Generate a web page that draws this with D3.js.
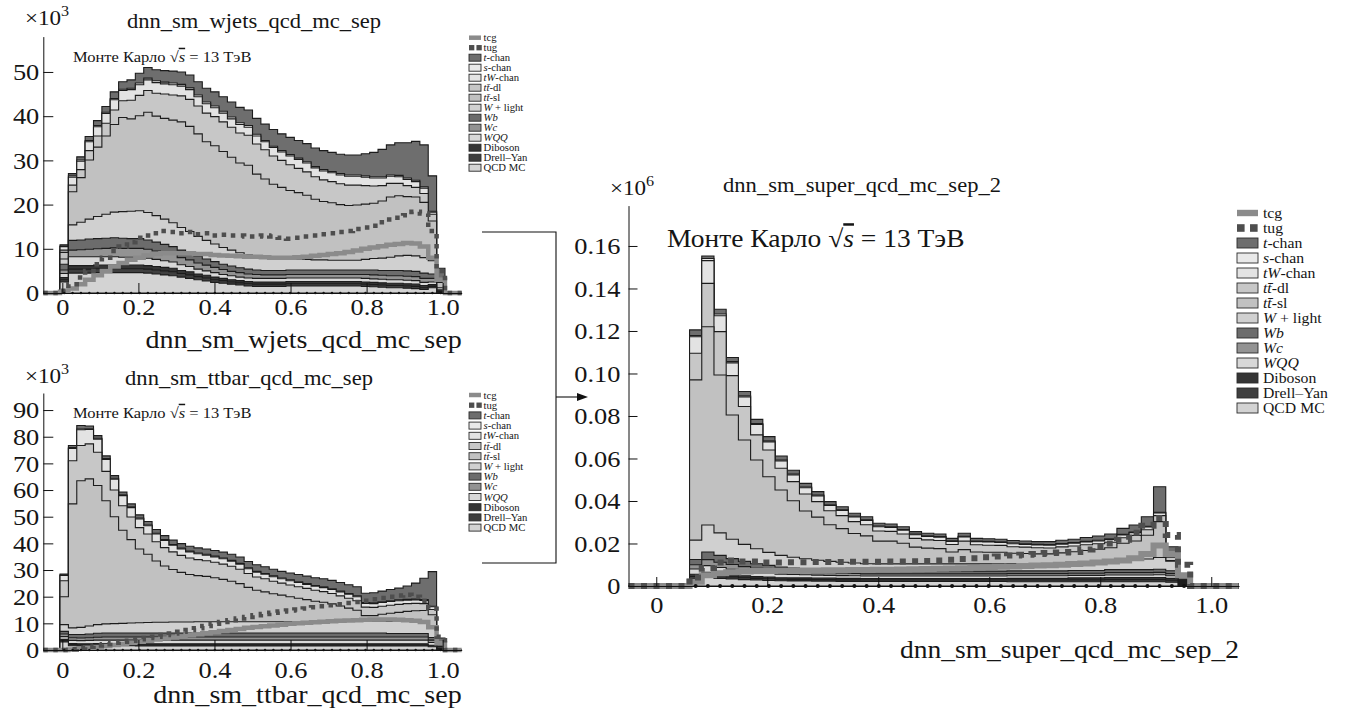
<!DOCTYPE html>
<html>
<head>
<meta charset="utf-8">
<script src="https://cdn.jsdelivr.net/npm/d3@7"></script>
<style>
  body { margin: 0; background: #fff; }
  svg { display: block; }
  svg text { font-family: "Liberation Serif", "Times New Roman", Times, serif; }
</style>
</head>
<body>
<svg id="fig"></svg>
<script>
// ---- binning (50 bins from -0.05 to 1.05) ----
const nBins = 50, xLo = -0.05, xHi = 1.05;
const binEdges = d3.range(nBins + 1).map((i) => xLo + (i * (xHi - xLo)) / nBins);

// ---- dnn_sm_wjets_qcd_mc_sep (x10^3) ----
const wj_tchan = [0,0, 0.3,0.5,0.7,0.9,1.1,1.3,1.5,1.7, 1.9,2.2,2.4,2.5,2.6,2.7,2.8,2.9,3.0,3.1, 3.2,3.3,3.4,3.5,3.5,3.6,3.7,3.8,3.8,3.9, 4.0,4.1,4.2,4.3,4.3,4.4,4.5,4.5,5.0,5.5, 6.2,6.8,7.4,8.0,8.8,9.5,8.0,2.5,0,0];
const wj_schan = [0,0, 0.1,0.3,0.3,0.3,0.3,0.3,0.3,0.3, 0.3,0.4,0.4,0.4,0.4,0.4,0.4,0.4,0.4,0.4, 0.4,0.4,0.4,0.4,0.4,0.4,0.3,0.3,0.3,0.3, 0.3,0.3,0.3,0.3,0.3,0.3,0.3,0.3,0.3,0.3, 0.3,0.3,0.3,0.3,0.3,0.3,0.2,0.1,0,0];
const wj_tw = [0,0, 0.8,1.8,1.9,2.0,2.1,2.2,2.3,2.3, 2.4,2.4,2.4,2.4,2.3,2.3,2.2,2.2,2.1,2.1, 2.0,2.0,1.9,1.9,1.8,1.8,1.8,1.9,1.9,2.0, 2.0,2.0,2.0,2.0,2.0,2.0,2.0,2.0,1.9,1.8, 1.7,1.6,1.5,1.4,1.3,1.2,0.5,0.2,0,0];
const wj_ttdl = [0,0, 0.5,1.5,1.8,2.1,2.5,2.9,3.3,3.8, 4.2,4.6,4.9,5.2,5.5,5.7,5.9,6.1,6.3,6.5, 6.6,6.7,6.8,6.8,6.8,6.8,6.6,6.4,6.1,5.8, 5.5,5.3,5.1,4.9,4.8,4.7,4.6,4.5,4.2,3.9, 3.5,3.1,2.8,2.5,2.2,2.0,1.5,0.4,0,0];
const wj_ttsl = [0,0, 1.5,7.5,10.1,13.4,15.7,17.7,19.8,21.3, 20.9,21.5,22.7,22.5,22.8,23.2,23.9,23.8,23.2,22.3, 22.2,21.7,21.0,20.3,20.3,18.7,17.8,16.7,16.1,15.4, 15.0,14.5,13.7,13.2,13.0,12.6,12.4,12.5,12.5,12.5, 12.9,13.6,13.6,13.3,13.3,12.5,9.0,1.2,0,0];
const wj_wlight = [0,0, 1.2,3.5,4.0,4.5,5.0,5.4,5.8,6.0, 6.2,6.3,6.2,6.0,5.7,5.4,5.1,4.8,4.5,4.2, 4.0,3.8,3.6,3.4,3.2,3.0,2.9,2.8,2.7,2.6, 2.5,2.4,2.3,2.3,2.2,2.2,2.2,2.2,2.4,2.6, 2.8,3.0,3.3,3.5,3.5,3.5,3.0,0.5,0,0];
const wj_wb = [0,0, 1.3,2.2,2.2,2.3,2.3,2.3,2.3,2.3, 2.2,2.2,2.1,2.0,1.9,1.8,1.7,1.6,1.5,1.4, 1.3,1.2,1.2,1.1,1.1,1.0,1.0,1.0,1.0,1.0, 1.0,1.0,1.0,1.0,1.0,1.0,1.0,1.0,1.0,1.1, 1.1,1.2,1.2,1.2,1.2,1.2,1.0,0.2,0,0];
const wj_wc = [0,0, 0.8,1.5,1.6,1.7,1.8,1.9,2.0,2.0, 2.0,2.0,2.0,1.9,1.8,1.7,1.6,1.5,1.4,1.3, 1.2,1.1,1.0,1.0,0.9,0.9,0.8,0.8,0.8,0.8, 0.8,0.8,0.8,0.8,0.8,0.8,0.8,0.8,0.9,0.9, 0.9,0.9,0.9,0.9,0.9,0.9,0.8,0.1,0,0];
const wj_wqq = [0,0, 0.9,2.0,2.0,2.0,1.9,1.9,1.9,1.8, 1.8,1.8,1.7,1.6,1.5,1.4,1.3,1.2,1.1,1.0, 1.0,0.9,0.9,0.8,0.8,0.8,0.8,0.8,0.8,0.8, 0.8,0.8,0.8,0.8,0.8,0.8,0.8,0.8,0.8,0.8, 0.8,0.8,0.8,0.8,0.8,0.7,0.6,0.1,0,0];
const wj_dib = [0,0, 0.5,0.8,0.8,0.8,0.8,0.8,0.8,0.8, 0.8,0.8,0.8,0.8,0.8,0.8,0.7,0.7,0.6,0.6, 0.6,0.5,0.5,0.5,0.5,0.5,0.5,0.5,0.5,0.5, 0.5,0.5,0.5,0.5,0.5,0.5,0.5,0.5,0.5,0.5, 0.5,0.5,0.5,0.5,0.5,0.5,0.4,0.1,0,0];
const wj_dy = [0,0, 0.5,0.9,0.9,0.9,0.9,0.9,0.9,0.9, 0.9,0.9,0.9,0.9,0.9,0.9,0.8,0.8,0.7,0.7, 0.6,0.6,0.5,0.5,0.5,0.5,0.5,0.5,0.5,0.5, 0.5,0.5,0.5,0.5,0.5,0.5,0.5,0.5,0.5,0.5, 0.5,0.5,0.5,0.5,0.5,0.4,0.3,0.1,0,0];
const wj_qcd = [0,0, 2.5,4.5,4.5,4.5,4.6,4.6,4.6,4.6, 4.6,4.6,4.5,4.3,4.1,3.9,3.6,3.3,3.0,2.7, 2.4,2.2,2.0,1.8,1.6,1.5,1.5,1.5,1.5,1.6, 1.6,1.6,1.6,1.6,1.6,1.6,1.6,1.6,1.5,1.4, 1.3,1.2,1.2,1.1,1.0,0.8,1.2,0.1,0,0];
const wj_tcg = [0,0, 0.3,1,2,3,4,5,6,6.8, 7.5,8,8.5,8.8,9,9,9,9,8.8,8.8, 8.6,8.5,8.4,8.3,8.2,8.2,8.1,8,8,8, 8.1,8.2,8.4,8.6,8.8,9,9.3,9.6,10,10.3, 10.6,10.9,11.1,11.3,11.2,10.5,8,3,0,0];
const wj_tug = [0,0, 0.5,2,3.5,5,6.5,8,9.5,10.5, 11.5,12.5,13,13.5,14,13.8,13.5,13.8,13.3,13.5, 13,13.2,13,13,12.8,12.8,13,12.8,12.5,12.3, 12.5,12.8,13,13.3,13.5,13.8,14,14.5,14.8,15.2, 16,16.6,17,17.6,18.4,18,14,5,0,0];

// ---- dnn_sm_ttbar_qcd_mc_sep (x10^3) ----
const tt_tchan = [0,0, 0.4,0.8,1.3,1.0,1.0,1.0,1.0,1.0, 1.1,1.2,1.3,1.4,1.5,1.6,1.7,1.8,1.9,2.0, 2.1,2.2,2.3,2.4,2.4,2.5,2.5,2.5,2.5,2.6, 2.7,2.8,2.9,3.0,3.1,3.2,3.3,3.4,3.5,3.8, 4.0,4.2,4.4,5.0,6.0,8.0,13.0,2.0,0,0];
const tt_schan = [0,0, 0.1,0.3,0.3,0.3,0.3,0.3,0.3,0.3, 0.3,0.3,0.3,0.3,0.3,0.3,0.3,0.3,0.3,0.3, 0.3,0.3,0.3,0.3,0.3,0.3,0.3,0.3,0.3,0.3, 0.3,0.3,0.3,0.3,0.3,0.3,0.3,0.3,0.3,0.3, 0.3,0.3,0.3,0.3,0.3,0.3,0.2,0.1,0,0];
const tt_tw = [0,0, 2.0,4.6,5.9,5.4,4.9,4.5,4.1,3.8, 3.5,3.3,3.1,2.9,2.7,2.5,2.4,2.3,2.2,2.1, 2.0,2.0,1.9,1.9,1.8,1.8,1.7,1.7,1.6,1.6, 1.6,1.5,1.5,1.5,1.5,1.5,1.5,1.5,1.4,1.4, 1.4,1.4,1.4,1.3,1.3,1.2,1.0,0.2,0,0];
const tt_ttdl = [0,0, 6.0,16.2,13.2,13.1,12.5,11.0,10.0,9.2, 8.5,8.0,7.6,7.2,6.9,6.6,6.4,6.2,6.0,5.9, 5.8,5.7,5.6,5.4,5.2,5.0,4.9,4.7,4.5,4.4, 4.3,4.2,4.1,4.0,3.9,3.8,3.7,3.6,3.2,3.1, 3.0,3.0,3.0,2.9,2.8,2.6,2.0,0.4,0,0];
const tt_ttsl = [0,0, 10.5,46.5,55.0,55.2,52.2,46.2,40.1,34.9, 31.3,27.7,25.6,23.0,21.1,19.7,18.6,17.8,17.3,17.0, 16.5,15.9,15.2,14.3,12.9,11.8,11.2,10.5,10.0,9.4, 8.8,8.3,7.7,7.3,6.7,5.9,5.0,4.1,2.0,2.0, 2.5,3.1,3.4,3.8,4.0,4.4,5.0,0.5,0,0];
const tt_wlight = [0,0, 2.5,2.5,2.7,3.0,3.2,3.4,3.5,3.6, 3.7,3.8,3.9,4.0,4.0,4.1,4.1,4.1,4.2,4.2, 4.2,4.2,4.2,4.2,4.2,4.2,4.2,4.2,4.2,4.2, 4.2,4.2,4.2,4.2,4.2,4.2,4.3,4.4,4.5,4.5, 4.5,4.5,4.5,4.5,4.5,4.2,3.5,0.5,0,0];
const tt_wb = [0,0, 1.0,1.2,1.3,1.4,1.5,1.5,1.5,1.5, 1.5,1.5,1.5,1.5,1.5,1.5,1.5,1.5,1.5,1.5, 1.5,1.5,1.5,1.5,1.5,1.5,1.5,1.5,1.5,1.5, 1.5,1.5,1.5,1.5,1.5,1.5,1.5,1.5,1.5,1.5, 1.5,1.3,1.3,1.3,1.3,1.3,1.0,0.2,0,0];
const tt_wc = [0,0, 1.0,1.0,1.0,1.0,1.1,1.2,1.2,1.2, 1.2,1.2,1.2,1.2,1.2,1.2,1.2,1.2,1.2,1.2, 1.2,1.2,1.2,1.2,1.2,1.2,1.2,1.2,1.2,1.2, 1.2,1.2,1.2,1.2,1.2,1.2,1.2,1.2,1.2,1.2, 1.2,1.2,1.2,1.2,1.2,1.2,0.9,0.1,0,0];
const tt_wqq = [0,0, 1.0,1.2,1.2,1.3,1.3,1.3,1.3,1.3, 1.3,1.4,1.4,1.4,1.4,1.4,1.4,1.4,1.4,1.4, 1.4,1.4,1.4,1.4,1.4,1.4,1.4,1.4,1.4,1.4, 1.4,1.4,1.4,1.4,1.4,1.4,1.4,1.4,1.4,1.4, 1.4,1.4,1.4,1.4,1.4,1.4,1.0,0.1,0,0];
const tt_dib = [0,0, 0.5,0.4,0.4,0.4,0.4,0.4,0.4,0.4, 0.4,0.4,0.4,0.4,0.4,0.4,0.4,0.4,0.4,0.4, 0.4,0.4,0.4,0.4,0.4,0.4,0.4,0.4,0.4,0.4, 0.4,0.4,0.4,0.4,0.4,0.4,0.4,0.4,0.4,0.4, 0.4,0.4,0.4,0.4,0.4,0.4,0.3,0.1,0,0];
const tt_dy = [0,0, 0.5,0.4,0.4,0.4,0.4,0.4,0.4,0.4, 0.4,0.4,0.4,0.4,0.4,0.4,0.4,0.4,0.4,0.4, 0.4,0.4,0.4,0.4,0.4,0.4,0.4,0.4,0.4,0.4, 0.4,0.4,0.4,0.4,0.4,0.4,0.4,0.4,0.4,0.4, 0.4,0.4,0.4,0.4,0.4,0.4,0.3,0.1,0,0];
const tt_qcd = [0,0, 3.0,1.6,1.5,1.5,1.6,1.6,1.6,1.6, 1.6,1.5,1.5,1.5,1.5,1.5,1.5,1.5,1.5,1.5, 1.5,1.5,1.5,1.5,1.5,1.5,1.5,1.5,1.5,1.5, 1.5,1.5,1.5,1.5,1.5,1.5,1.5,1.5,1.5,1.5, 1.5,1.5,1.5,1.5,1.5,1.5,1.2,0.2,0,0];
const tt_tcg = [0,0, 0,0.2,0.5,0.8,1.1,1.5,1.9,2.3, 2.7,3.1,3.5,3.9,4.3,4.7,5.1,5.5,5.9,6.3, 6.7,7.1,7.5,7.9,8.3,8.6,8.9,9.2,9.5,9.8, 10.0,10.2,10.4,10.6,10.8,11.0,11.1,11.2,11.3,11.4, 11.4,11.4,11.3,11.2,11.0,10.5,8.5,2.5,0,0];
const tt_tug = [0,0, 0,0.3,0.8,1.2,1.7,2.2,2.7,3.1, 3.5,4.0,4.5,5.0,5.6,6.2,6.8,7.5,8.2,9.0, 9.8,10.5,11.2,11.8,12.4,13.0,13.5,14.0,14.4,14.8, 15.2,15.6,16.0,16.4,16.8,17.2,17.6,18.0,18.5,19.0, 19.5,20.0,20.4,20.7,20.0,18.5,15.5,5.0,0,0];

// ---- dnn_sm_super_qcd_mc_sep_2 (x10^6) ----
const sp_tchan = [0,0,0,0,0, 0.0027,0.0012,0.0022,0.0019,0.0020, 0.0019,0.0020,0.0019,0.0018,0.0017,0.0016,0.0015,0.0015,0.0014,0.0014, 0.0013,0.0013,0.0013,0.0012,0.0012,0.0012,0.0011,0.0014,0.0012,0.0012, 0.0012,0.0012,0.0013,0.0013,0.0014,0.0015,0.0016,0.0018,0.0020,0.0023, 0.0028,0.0033,0.0045,0.0120,0.0040,0.0010,0,0,0,0];
const sp_schan = [0,0,0,0,0, 0.0005,0.0010,0.0008,0.0006,0.0005, 0.0005,0.0005,0.0004,0.0004,0.0004,0.0004,0.0003,0.0003,0.0003,0.0003, 0.0003,0.0003,0.0003,0.0003,0.0003,0.0003,0.0003,0.0003,0.0003,0.0003, 0.0003,0.0003,0.0003,0.0003,0.0003,0.0003,0.0003,0.0003,0.0003,0.0003, 0.0003,0.0003,0.0003,0.0003,0.0002,0.00005,0,0,0,0];
const sp_tw = [0,0,0,0,0, 0.0078,0.0107,0.0075,0.0060,0.0045, 0.0049,0.0038,0.0035,0.0032,0.0029,0.0027,0.0025,0.0024,0.0022,0.0021, 0.0020,0.0019,0.0018,0.0017,0.0016,0.0016,0.0015,0.0020,0.0015,0.0015, 0.0014,0.0014,0.0013,0.0013,0.0013,0.0013,0.0013,0.0013,0.0013,0.0013, 0.0013,0.0013,0.0013,0.0013,0.0008,0.0001,0,0,0,0];
const sp_ttdl = [0,0,0,0,0, 0.0125,0.0204,0.0204,0.0185,0.0158, 0.0118,0.0126,0.0102,0.0090,0.0080,0.0073,0.0066,0.0061,0.0056,0.0052, 0.0048,0.0046,0.0044,0.0041,0.0039,0.0038,0.0035,0.0040,0.0034,0.0033, 0.0032,0.0031,0.0030,0.0029,0.0028,0.0028,0.0027,0.0027,0.0026,0.0026, 0.0026,0.0026,0.0026,0.0028,0.0015,0.0002,0,0,0,0];
const sp_ttsl = [0,0,0,0,0, 0.0754,0.0933,0.0743,0.0585,0.0491, 0.0418,0.0356,0.0308,0.0266,0.0225,0.0203,0.0172,0.0158,0.0139,0.0131, 0.0107,0.0107,0.0097,0.0079,0.0074,0.0072,0.0056,0.0067,0.0056,0.0055, 0.0055,0.0048,0.0047,0.0045,0.0045,0.0050,0.0051,0.0055,0.0059,0.0060, 0.0079,0.0088,0.0112,0.0169,0.0003,0.00045,0,0,0,0];
const sp_wlight = [0,0,0,0,0, 0.0091,0.0127,0.0106,0.0091,0.0080, 0.0070,0.0061,0.0055,0.0050,0.0046,0.0043,0.0040,0.0038,0.0036,0.0035, 0.0034,0.0034,0.0034,0.0034,0.0034,0.0034,0.0034,0.0034,0.0034,0.0034, 0.0034,0.0035,0.0035,0.0035,0.0035,0.0035,0.0037,0.0039,0.0041,0.0043, 0.0045,0.0047,0.0050,0.0055,0.0045,0.0005,0,0,0,0];
const sp_wb = [0,0,0,0,0, 0.0025,0.0036,0.0032,0.0028,0.0025, 0.0022,0.0020,0.0018,0.0017,0.0016,0.0015,0.0014,0.0014,0.0013,0.0013, 0.0013,0.0013,0.0013,0.0013,0.0013,0.0013,0.0013,0.0013,0.0013,0.0013, 0.0013,0.0013,0.0013,0.0013,0.0013,0.0013,0.0013,0.0013,0.0013,0.0014, 0.0014,0.0014,0.0014,0.0015,0.0014,0.0003,0,0,0,0];
const sp_wc = [0,0,0,0,0, 0.0020,0.0028,0.0025,0.0022,0.0020, 0.0018,0.0016,0.0015,0.0014,0.0013,0.0012,0.0012,0.0011,0.0011,0.0010, 0.0010,0.0010,0.0010,0.0010,0.0010,0.0010,0.0010,0.0010,0.0010,0.0010, 0.0010,0.0010,0.0010,0.0010,0.0010,0.0010,0.0010,0.0010,0.0010,0.0011, 0.0011,0.0011,0.0011,0.0011,0.0010,0.0002,0,0,0,0];
const sp_wqq = [0,0,0,0,0, 0.0025,0.0032,0.0029,0.0026,0.0023, 0.0021,0.0019,0.0017,0.0016,0.0015,0.0014,0.0013,0.0013,0.0012,0.0012, 0.0012,0.0012,0.0012,0.0012,0.0012,0.0012,0.0012,0.0012,0.0012,0.0012, 0.0012,0.0012,0.0012,0.0012,0.0012,0.0012,0.0012,0.0012,0.0012,0.0012, 0.0012,0.0012,0.0012,0.0013,0.0012,0.0002,0,0,0,0];
const sp_dib = [0,0,0,0,0, 0.0010,0.0012,0.0011,0.0010,0.0009, 0.0008,0.0008,0.0007,0.0007,0.0007,0.0007,0.0007,0.0007,0.0007,0.0007, 0.0007,0.0007,0.0007,0.0007,0.0007,0.0007,0.0007,0.0007,0.0007,0.0007, 0.0007,0.0008,0.0008,0.0008,0.0008,0.0008,0.0009,0.0009,0.0009,0.0010, 0.0010,0.0010,0.0010,0.0010,0.0009,0.0003,0,0,0,0];
const sp_dy = [0,0,0,0,0, 0.0010,0.0012,0.0011,0.0010,0.0009, 0.0008,0.0008,0.0007,0.0007,0.0007,0.0007,0.0007,0.0007,0.0007,0.0007, 0.0007,0.0007,0.0007,0.0007,0.0007,0.0007,0.0007,0.0007,0.0007,0.0007, 0.0007,0.0008,0.0008,0.0008,0.0008,0.0008,0.0009,0.0009,0.0009,0.0010, 0.0010,0.0010,0.0010,0.0010,0.0009,0.0003,0,0,0,0];
const sp_qcd = [0,0,0,0,0, 0.0035,0.0040,0.0036,0.0033,0.0030, 0.0028,0.0026,0.0025,0.0024,0.0024,0.0023,0.0023,0.0022,0.0022,0.0021, 0.0021,0.0021,0.0021,0.0021,0.0021,0.0021,0.0021,0.0021,0.0021,0.0021, 0.0021,0.0020,0.0020,0.0020,0.0020,0.0020,0.0020,0.0020,0.0020,0.0020, 0.0020,0.0020,0.0020,0.0020,0.0018,0.0004,0,0,0,0];
const sp_tcg = [0,0,0,0,0, 0.002,0.005,0.006,0.0065,0.0068, 0.007,0.007,0.0072,0.0072,0.0073,0.0073,0.0074,0.0074,0.0075,0.0075, 0.0076,0.0077,0.0078,0.0079,0.008,0.0081,0.0082,0.0084,0.0086,0.0088, 0.009,0.0092,0.0094,0.0096,0.0098,0.01,0.0103,0.0106,0.011,0.0115, 0.012,0.013,0.015,0.019,0.015,0.005,0,0,0,0];
const sp_tug = [0,0,0,0,0, 0.004,0.0085,0.011,0.012,0.0115, 0.0115,0.011,0.011,0.0112,0.0112,0.0113,0.0113,0.0113,0.0114,0.0114, 0.0114,0.0115,0.0115,0.0116,0.0118,0.012,0.0123,0.0127,0.0131,0.0135, 0.0139,0.0143,0.0147,0.015,0.0155,0.0158,0.016,0.0172,0.0185,0.02, 0.0218,0.025,0.0283,0.032,0.024,0.01,0,0,0,0];

// ---- categories, ticks, labels ----
// stacking order, bottom to top
const stackNames = ["QCD MC", "Drell–Yan", "Diboson", "WQQ", "Wc", "Wb", "W + light", "tt-sl", "tt-dl", "tW-chan", "s-chan", "t-chan"];
const stackColors = ["#d3d3d3", "#3f3f3f", "#353535", "#d8d8d8", "#939393", "#6c6c6c", "#d0d0d0", "#c1c1c1", "#c7c7c7", "#e3e3e3", "#e9e9e9", "#6e6e6e"];
const legendOrder = ["tcg", "tug", "t-chan", "s-chan", "tW-chan", "tt-dl", "tt-sl", "W + light", "Wb", "Wc", "WQQ", "Diboson", "Drell–Yan", "QCD MC"];
const legendText = {
  "tcg": [["tcg", false]],
  "tug": [["tug", false]],
  "t-chan": [["t", true], ["-chan", false]],
  "s-chan": [["s", true], ["-chan", false]],
  "tW-chan": [["tW", true], ["-chan", false]],
  "tt-dl": [["tt\u0304", true], ["-dl", false]],
  "tt-sl": [["tt\u0304", true], ["-sl", false]],
  "W + light": [["W", true], [" + light", false]],
  "Wb": [["Wb", true]],
  "Wc": [["Wc", true]],
  "WQQ": [["WQQ", true]],
  "Diboson": [["Diboson", false]],
  "Drell–Yan": [["Drell–Yan", false]],
  "QCD MC": [["QCD MC", false]],
};
const xTickVals = [0, 0.2, 0.4, 0.6, 0.8, 1.0];
const wjYTicks = [0, 10, 20, 30, 40, 50];
const ttYTicks = [0, 10, 20, 30, 40, 50, 60, 70, 80, 90];
const spYTicks = [0, 0.02, 0.04, 0.06, 0.08, 0.10, 0.12, 0.14, 0.16];
const mcLabel = [["Монте Карло  ", false], ["√", false], ["s", true, { "text-decoration": "overline" }], [" = 13 ТэВ", false]];

const SERIF = '"Liberation Serif", "Times New Roman", Times, serif';
const SX = 1.1; // the printed figure is a bit wider than tall

const svg = d3.select("#fig").attr("width", 1347).attr("height", 712);

function txt(g, x, y, parts, size, anchor = "start", sx = SX) {
  const t = g.append("text")
    .attr("transform", `translate(${x},${y}) scale(${sx},1)`)
    .attr("font-size", size)
    .attr("text-anchor", anchor)
    .style("font-family", SERIF)
    .attr("fill", "#151515");
  parts.forEach(([s, it, extra]) => {
    const ts = t.append("tspan").text(s);
    if (it) ts.attr("font-style", "italic");
    if (extra) Object.entries(extra).forEach(([k, v]) => ts.attr(k, v));
  });
  return t;
}

function steps(vals) {
  const pts = [];
  vals.forEach((v, i) => pts.push([binEdges[i], v], [binEdges[i + 1], v]));
  return pts;
}

function styleAxis(sel, size) {
  sel.attr("font-family", SERIF).attr("font-size", size);
  sel.select(".domain").attr("stroke", "#111").attr("stroke-width", 1);
  sel.selectAll(".tick line").attr("stroke", "#111").attr("stroke-width", 1);
  sel.selectAll(".tick text").attr("fill", "#151515").style("font-family", SERIF).each(function () {
    const t = d3.select(this);
    const x = +t.attr("x") || 0;
    const y = +t.attr("y") || 0;
    t.attr("x", 0).attr("y", 0).attr("transform", `translate(${x},${y}) scale(${SX},1)`);
  });
}

function drawPanel(p) {
  const g = svg.append("g");
  const x = d3.scaleLinear().domain([xLo, xHi]).range(p.xRange);
  const y = d3.scaleLinear().domain([0, p.yMax]).range([p.y0, p.yTop]);

  // cumulative stack tops
  let cum = new Array(nBins).fill(0);
  const tops = p.stack.map((vals) => {
    cum = cum.map((c, i) => c + vals[i]);
    return cum.slice();
  });

  const area = d3.area().x((d) => x(d[0])).y0(y(0)).y1((d) => y(d[1]));
  const line = d3.line().x((d) => x(d[0])).y((d) => y(d[1]));

  // draw largest first, each following layer covers the lower part
  for (let i = tops.length - 1; i >= 0; i--) {
    g.append("path")
      .attr("d", area(steps(tops[i])))
      .attr("fill", stackColors[i])
      .attr("stroke", "#1c1c1c")
      .attr("stroke-width", 1.1);
  }

  // signal lines
  g.append("path").attr("d", line(steps(p.tcg)))
    .attr("fill", "none").attr("stroke", "#8b8b8b").attr("stroke-width", p.tcgW);
  g.append("path").attr("d", line(steps(p.tug)))
    .attr("fill", "none").attr("stroke", "#4e4e4e").attr("stroke-width", p.tugW)
    .attr("stroke-dasharray", p.tugDash);

  // empty data markers on zero
  const total = tops[tops.length - 1];
  g.selectAll(null)
    .data(d3.range(nBins).filter((i) => total[i] > 0))
    .join("circle")
    .attr("cx", (i) => x((binEdges[i] + binEdges[i + 1]) / 2))
    .attr("cy", y(0))
    .attr("r", p.dotR)
    .attr("fill", "#111");

  // axes (ROOT style: ticks inside)
  g.append("g")
    .attr("transform", `translate(0,${p.y0})`)
    .call(d3.axisBottom(x).tickValues(xTickVals)
      .tickFormat((d) => (d === 0 ? "0" : d3.format(".1f")(d)))
      .tickSizeInner(-p.tick).tickSizeOuter(0).tickPadding(p.xPad))
    .call(styleAxis, p.tickFont);

  g.append("g")
    .attr("transform", `translate(${p.xRange[0]},0)`)
    .call(d3.axisLeft(y).tickValues(p.yTicks)
      .tickFormat(p.yFormat)
      .tickSizeInner(-p.tick).tickSizeOuter(0).tickPadding(p.yPad))
    .call(styleAxis, p.tickFont);

  // texts
  txt(g, p.expo[0], p.expo[1], [["×10", false], [p.expo[2], false, { dy: "-0.62em", "font-size": p.expoFont * 0.7 }]], p.expoFont, "start");
  txt(g, p.title[0], p.title[1], [[p.name, false]], p.titleFont, "middle");
  txt(g, p.mc[0], p.mc[1], mcLabel, p.mcFont, "start");
  txt(g, p.xRange[1], p.axisTitleY, [[p.name, false]], p.axisTitleFont, "end");

  // legend
  const L = p.legend;
  legendOrder.forEach((name, i) => {
    const cy = L.y + i * L.dy;
    if (name === "tcg") {
      g.append("rect").attr("x", L.x).attr("y", cy - L.sh * 0.32).attr("width", L.sw).attr("height", L.sh * 0.64).attr("fill", "#8b8b8b");
    } else if (name === "tug") {
      [0, 1].forEach((j) => g.append("rect")
        .attr("x", L.x + j * L.sw * 0.62).attr("y", cy - L.sh * 0.38)
        .attr("width", L.sh * 0.76).attr("height", L.sh * 0.76).attr("fill", "#4e4e4e"));
    } else {
      g.append("rect").attr("x", L.x).attr("y", cy - L.sh / 2).attr("width", L.sw).attr("height", L.sh)
        .attr("fill", stackColors[stackNames.indexOf(name)]).attr("stroke", "#2a2a2a").attr("stroke-width", 0.9);
    }
    txt(g, L.x + L.sw + L.gap, cy + L.fs * 0.33, legendText[name], L.fs, "start", L.sx);
  });
}

const panels = [
  {
    name: "dnn_sm_wjets_qcd_mc_sep",
    stack: [wj_qcd, wj_dy, wj_dib, wj_wqq, wj_wc, wj_wb, wj_wlight, wj_ttsl, wj_ttdl, wj_tw, wj_schan, wj_tchan],
    tcg: wj_tcg, tug: wj_tug, yTicks: wjYTicks, yFormat: d3.format("d"),
    xRange: [43.3, 461.7], y0: 293, yTop: 36.6, yMax: 58,
    tick: 10, xPad: 5, yPad: 4, tickFont: 24, tcgW: 4.5, tugW: 4.5, tugDash: "4.5,5.5", dotR: 1.2,
    expo: [25, 25, "3"], expoFont: 21, title: [254, 28], titleFont: 20.5, mc: [73, 62], mcFont: 15,
    axisTitleY: 348, axisTitleFont: 25.5,
    legend: { x: 469, y: 37.7, dy: 10, sw: 12, sh: 7, gap: 2.5, fs: 11, sx: 0.97 },
  },
  {
    name: "dnn_sm_ttbar_qcd_mc_sep",
    stack: [tt_qcd, tt_dy, tt_dib, tt_wqq, tt_wc, tt_wb, tt_wlight, tt_ttsl, tt_ttdl, tt_tw, tt_schan, tt_tchan],
    tcg: tt_tcg, tug: tt_tug, yTicks: ttYTicks, yFormat: d3.format("d"),
    xRange: [43.3, 461.7], y0: 650, yTop: 393, yMax: 96.4,
    tick: 10, xPad: 11, yPad: 4, tickFont: 24, tcgW: 4.5, tugW: 4.5, tugDash: "4.5,5.5", dotR: 1.2,
    expo: [25, 383, "3"], expoFont: 21, title: [249, 385], titleFont: 20.5, mc: [73, 418], mcFont: 15,
    axisTitleY: 703, axisTitleFont: 25.5,
    legend: { x: 469, y: 395, dy: 10.2, sw: 12, sh: 7, gap: 2.5, fs: 11, sx: 0.97 },
  },
  {
    name: "dnn_sm_super_qcd_mc_sep_2",
    stack: [sp_qcd, sp_dy, sp_dib, sp_wqq, sp_wc, sp_wb, sp_wlight, sp_ttsl, sp_ttdl, sp_tw, sp_schan, sp_tchan],
    tcg: sp_tcg, tug: sp_tug, yTicks: spYTicks, yFormat: (d) => (d === 0 ? "0" : d3.format(".2f")(d)),
    xRange: [628.5, 1239], y0: 586, yTop: 205.6, yMax: 0.179,
    tick: 9, xPad: 10, yPad: 8, tickFont: 24, tcgW: 6, tugW: 6, tugDash: "6,6.5", dotR: 2,
    expo: [610, 195, "6"], expoFont: 21, title: [862, 192], titleFont: 20.5, mc: [667, 247], mcFont: 25,
    axisTitleY: 658, axisTitleFont: 25,
    legend: { x: 1237, y: 213, dy: 15, sw: 21, sh: 10, gap: 5, fs: 15, sx: 1.05 },
  },
];

panels.forEach(drawPanel);

// connectors between the panels
const conn = svg.append("g").attr("stroke", "#111").attr("stroke-width", 1.1).attr("fill", "none");
conn.append("path").attr("d", "M482,232 H556 V563 H482");
conn.append("path").attr("d", "M556,397 H580");
svg.append("path").attr("d", "M588,397 L577,393 L577,401 Z").attr("fill", "#111");
</script>
</body>
</html>
